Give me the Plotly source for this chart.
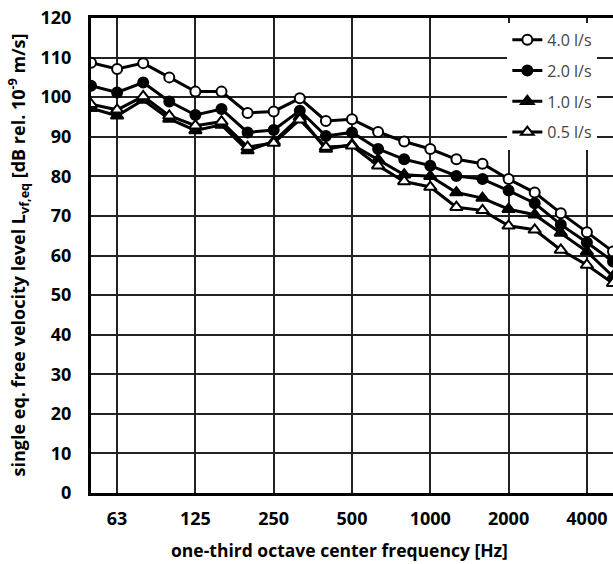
import plotly.graph_objects as go

freq_labels = ["50", "63", "80", "100", "125", "160", "200", "250", "315", "400", "500",
               "630", "800", "1000", "1250", "1600", "2000", "2500", "3150", "4000", "5000"]
tick_labels = ["63", "125", "250", "500", "1000", "2000", "4000"]

flow_40 = [108.7, 107.1, 108.6, 105.0, 101.4, 101.4, 96.0, 96.4, 99.7, 94.0, 94.4,
           91.2, 88.8, 86.9, 84.3, 83.2, 79.3, 75.9, 70.7, 65.9, 61.0]
flow_20 = [102.9, 101.2, 103.7, 98.9, 95.5, 97.0, 91.1, 91.7, 96.6, 90.2, 91.1,
           86.9, 84.3, 82.7, 80.1, 79.3, 76.4, 73.2, 67.8, 63.3, 58.5]
flow_10 = [97.2, 95.3, 99.3, 94.5, 91.6, 93.0, 86.5, 88.8, 95.0, 86.9, 88.0,
           84.2, 80.4, 80.0, 75.9, 74.5, 71.7, 70.3, 65.7, 61.0, 54.7]
flow_05 = [98.2, 96.8, 100.2, 95.3, 92.8, 93.8, 87.4, 88.4, 94.3, 87.4, 87.7,
           82.7, 78.7, 77.3, 72.2, 71.4, 67.5, 66.5, 61.4, 57.6, 53.0]

x_idx = list(range(len(freq_labels)))
tick_idx = [freq_labels.index(t) for t in tick_labels]

series = [
    ("4.0 l/s", flow_40, "circle", "white"),
    ("2.0 l/s", flow_20, "circle", "black"),
    ("1.0 l/s", flow_10, "triangle-up", "black"),
    ("0.5 l/s", flow_05, "triangle-up", "white"),
]

fig = go.Figure()
for i, (name, vals, sym, fill) in enumerate(series):
    fig.add_trace(go.Scatter(
        x=x_idx, y=vals, name=name, mode="lines+markers",
        legendgroup=f"g{i}",
        line=dict(color="black", width=3),
        marker=dict(symbol=sym, size=10 if "circle" in sym else 11, color=fill,
                    line=dict(color="black", width=2)),
    ))

fig.update_layout(
    width=613, height=564,
    margin=dict(l=91, r=0, t=18, b=71),
    paper_bgcolor="white", plot_bgcolor="white",
    font=dict(family="Open Sans", color="black"),
    showlegend=True,
    legend=dict(
        x=0.97, y=0.99, xanchor="right", yanchor="top",
        bgcolor="white", borderwidth=0,
        font=dict(family="Open Sans", size=16, color="#444"),
        tracegroupgap=7, traceorder="grouped",
    ),
    xaxis=dict(
        range=[0, 20], tickmode="array", tickvals=tick_idx, ticktext=tick_labels,
        showgrid=True, gridcolor="#222", gridwidth=2,
        showline=True, linecolor="black", linewidth=3, mirror=True,
        ticks="outside", ticklen=7, tickcolor="rgba(0,0,0,0)",
        tickfont=dict(family="Open Sans", size=18, weight="bold", color="black"),
        zeroline=False,
    ),
    yaxis=dict(
        range=[0, 120], tickmode="linear", tick0=0, dtick=10,
        showgrid=True, gridcolor="#222", gridwidth=2,
        showline=True, linecolor="black", linewidth=3, mirror=False,
        ticks="outside", ticklen=13, tickcolor="rgba(0,0,0,0)",
        tickfont=dict(family="Open Sans", size=18, weight="bold", color="black"),
        zeroline=False,
    ),
    annotations=[
        dict(text="one-third octave center frequency [Hz]", xref="paper", yref="paper",
             x=(339 - 91) / 522, y=-(550 - 493) / 475, xanchor="center", yanchor="middle",
             showarrow=False, font=dict(family="Open Sans", size=17.5, weight="bold", color="black")),
        dict(text="single eq. free velocity level L<sub>vf,eq</sub> [dB rel. 10<sup>-9</sup> m/s]",
             xref="paper", yref="paper", x=-(91 - 18) / 522, y=0.5,
             xanchor="center", yanchor="middle", textangle=-90,
             showarrow=False, font=dict(family="Open Sans", size=18, weight="bold", color="black")),
    ],
)

fig.write_html("out.html", config={"displayModeBar": False},
               post_script="document.body.style.margin='0';document.body.style.overflow='hidden';")
